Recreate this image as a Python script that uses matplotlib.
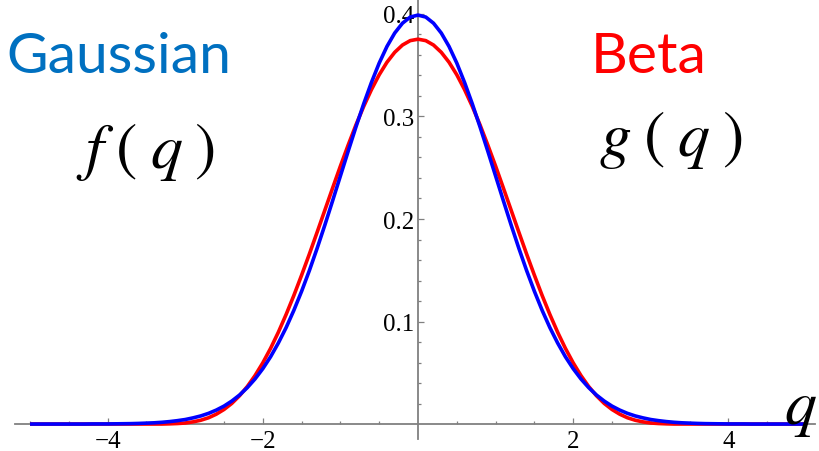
import matplotlib
matplotlib.use("Agg")
import matplotlib.pyplot as plt
import numpy as np

# q grid from 0 to 5 in steps of 0.1 (both curves are symmetric about q = 0)
q_half = [0.0, 0.1, 0.2, 0.3, 0.4, 0.5, 0.6, 0.7, 0.8, 0.9,
          1.0, 1.1, 1.2, 1.3, 1.4, 1.5, 1.6, 1.7, 1.8, 1.9,
          2.0, 2.1, 2.2, 2.3, 2.4, 2.5, 2.6, 2.7, 2.8, 2.9,
          3.0, 3.1, 3.2, 3.3, 3.4, 3.5, 3.6, 3.7, 3.8, 3.9,
          4.0, 4.1, 4.2, 4.3, 4.4, 4.5, 4.6, 4.7, 4.8, 4.9, 5.0]

# Gaussian f(q)
f_half = [0.3989, 0.3970, 0.3910, 0.3814, 0.3683, 0.3521, 0.3332, 0.3123, 0.2897, 0.2661,
          0.2420, 0.2179, 0.1942, 0.1714, 0.1497, 0.1295, 0.1109, 0.0940, 0.0790, 0.0656,
          0.0540, 0.0440, 0.0355, 0.0283, 0.0224, 0.0175, 0.0136, 0.0104, 0.0079, 0.0060,
          0.0044, 0.0033, 0.0024, 0.0017, 0.0012, 0.0009, 0.0006, 0.0004, 0.0003, 0.0002,
          0.0001, 0.0001, 0.0001, 0.0000, 0.0000, 0.0000, 0.0000, 0.0000, 0.0000, 0.0000, 0.0000]

# Beta g(q)
g_half = [0.3754, 0.3740, 0.3697, 0.3626, 0.3529, 0.3407, 0.3262, 0.3098, 0.2917, 0.2721,
          0.2516, 0.2303, 0.2087, 0.1871, 0.1658, 0.1452, 0.1254, 0.1068, 0.0895, 0.0738,
          0.0597, 0.0473, 0.0366, 0.0276, 0.0201, 0.0142, 0.0096, 0.0061, 0.0037, 0.0021,
          0.0010, 0.0005, 0.0002, 0.0000, 0.0000, 0.0000, 0.0000, 0.0000, 0.0000, 0.0000,
          0.0000, 0.0000, 0.0000, 0.0000, 0.0000, 0.0000, 0.0000, 0.0000, 0.0000, 0.0000, 0.0000]

x_major = [-4, -2, 2, 4]
y_major = [0.1, 0.2, 0.3, 0.4]

q = np.concatenate([-np.array(q_half[:0:-1]), q_half])
f = np.concatenate([f_half[:0:-1], f_half])
g = np.concatenate([g_half[:0:-1], g_half])

plt.rcParams["mathtext.fontset"] = "stix"

W, H = 819, 452
fig = plt.figure(figsize=(W / 100, H / 100), dpi=100)
ax = fig.add_axes([0, 0, 1, 1])
ax.set_xlim(-5.387, 5.168)
ax.set_ylim(-0.0263, 0.4146)

ax.plot(q, g, color="#ff0000", lw=2.6, solid_capstyle="butt", zorder=3)
ax.plot(q, f, color="#0000ff", lw=2.6, solid_capstyle="butt", zorder=4)

axis_col = "#808080"
for side in ("top", "right"):
    ax.spines[side].set_visible(False)
ax.spines["left"].set_position(("data", 0))
ax.spines["bottom"].set_position(("data", 0))
ax.spines["bottom"].set_bounds(-5.2, 5.12)
ax.spines["left"].set_bounds(-0.015, 0.415)
for side in ("left", "bottom"):
    ax.spines[side].set_color(axis_col)
    ax.spines[side].set_linewidth(1.3)
    ax.spines[side].set_zorder(2)

ax.set_xticks(x_major)
ax.set_xticks([v / 2 for v in range(-10, 11) if v % 4 != 0], minor=True)
ax.set_yticks(y_major)
ax.set_yticks([v / 100 for v in range(2, 42, 2) if v % 10 != 0], minor=True)
ax.set_xticklabels(["\u2212" + str(abs(v)) if v < 0 else str(v) for v in x_major],
                   fontsize=18, family="Liberation Serif")
ax.set_yticklabels([f"{v:.1f}" for v in y_major],
                   fontsize=18, family="Liberation Serif")

ax.tick_params(which="both", direction="in", color=axis_col, width=0.9)
ax.tick_params(which="major", length=4.5)
ax.tick_params(which="minor", length=2.5)
ax.tick_params(axis="x", pad=4)
ax.tick_params(axis="y", pad=3)

# curve names and symbols
fig.text(6 / W, 1 - 73 / H, "Gaussian", color="#0070c0", fontsize=41,
         family="Lato", va="baseline", ha="left")
fig.text(591 / W, 1 - 73 / H, "Beta", color="#ff0000", fontsize=41,
         family="Lato", va="baseline", ha="left")
fig.text(146 / W, 1 - 152 / H, r"$f\;(\;q\;)$", color="black", fontsize=46,
         va="center", ha="center")
fig.text(671 / W, 1 - 140 / H, r"$g\;(\;q\;)$", color="black", fontsize=46,
         va="center", ha="center")
fig.text(800 / W, 1 - 408 / H, r"$q$", color="black", fontsize=46,
         va="center", ha="center")

fig.savefig("out.png", dpi=100)
